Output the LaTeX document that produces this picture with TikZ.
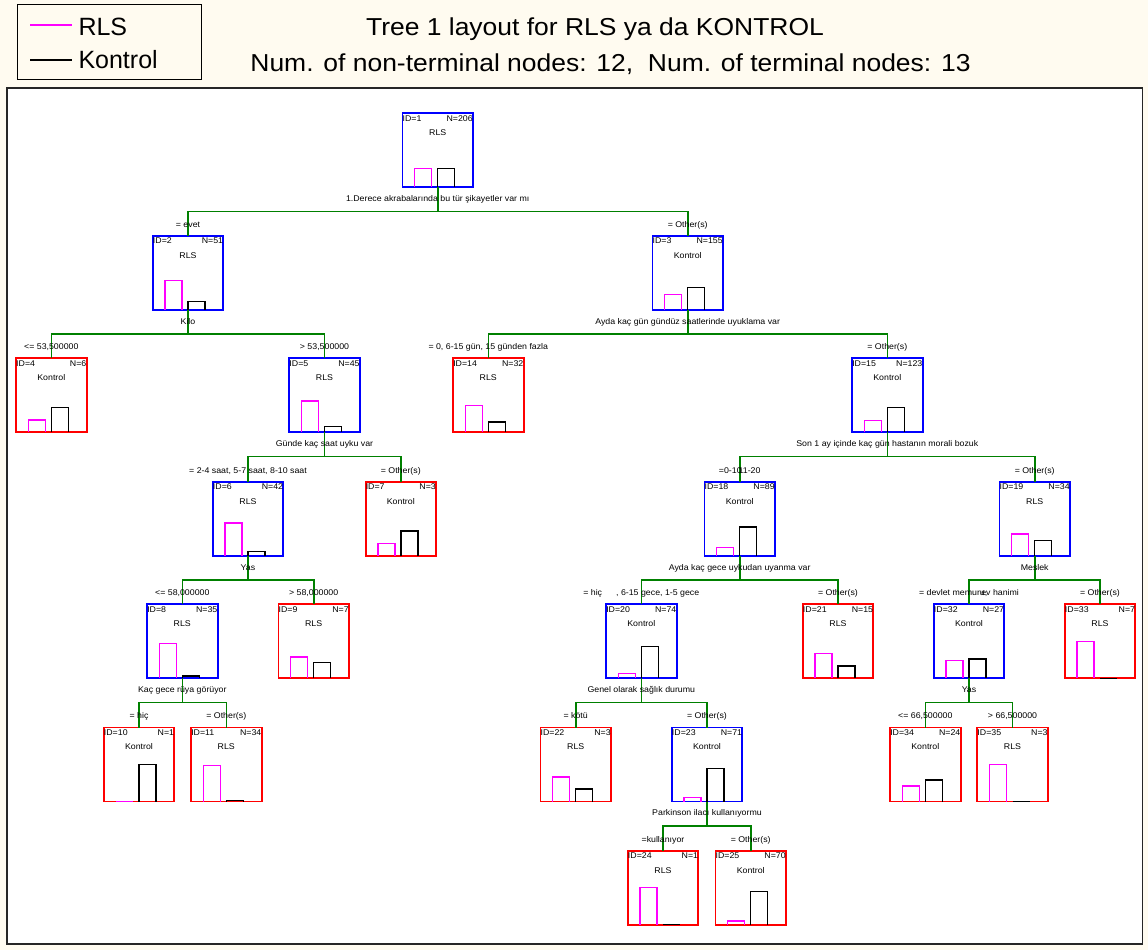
\documentclass[tikz,border=0pt]{standalone}
\usepackage{fontspec}
\setmainfont{Liberation Sans}
\newfontfamily\wsans[FakeStretch=1.06]{Liberation Sans}
\newfontfamily\tsans[FakeStretch=1.08]{Liberation Sans}
\definecolor{bgc}{RGB}{255,251,240}
\definecolor{edgegreen}{RGB}{0,128,0}
\definecolor{magbar}{RGB}{255,0,255}
\tikzset{
  tbox/.style={draw, line width=1.9pt, minimum width=70.5pt, minimum height=74pt, inner sep=0pt, outer sep=0pt, anchor=north},
  small/.style={font=\wsans\fontsize{8.3}{9}\selectfont, inner sep=0pt, text=black},
  edge/.style={draw=edgegreen, line width=1.6pt},
  mbar/.style={draw=magbar, line width=1.5pt},
  kbar/.style={draw=black, line width=1.5pt},
  bigtext/.style={font=\fontsize{25}{28}\selectfont, inner sep=0pt, text=black},
  titletext/.style={font=\tsans\fontsize{24.5}{28}\selectfont, inner sep=0pt, text=black},
}
\newcommand\tnode[8]{%
  \node[tbox, draw=#3] (n#4) at (#1,#2) {};
  \node[small, anchor=base west] (n#4id) at ([yshift=-8pt]n#4.north west) {ID=#4};
  \node[small, anchor=base east] (n#4N) at ([yshift=-8pt]n#4.north east) {N=#5};
  \node[small, anchor=base] (n#4cl) at ([yshift=-22.3pt]n#4.north) {#6};
  \draw[mbar] ([xshift=-23pt]n#4.south) -- ++(0,-#7) -- ++(17,0) -- ++(0,#7);
  \draw[kbar] (n#4.south) -- ++(0,-#8) -- ++(17,0) -- ++(0,#8);
}
\newcommand\tsplit[6]{%
  \draw[edge] (n#1.south) -- ++(0,24.3) -| (n#3.north);
  \draw[edge] (n#1.south) -- ++(0,24.3) -| (n#5.north);
  \node[small, anchor=base] (q#1) at ([yshift=-14.3pt]n#1.south) {#2};
  \node[small, anchor=base] (c#3) at ([yshift=8.7pt]n#3.north) {#4};
  \node[small, anchor=base] (c#5) at ([yshift=8.7pt]n#5.north) {#6};
}
\begin{document}
\begin{tikzpicture}[x=1pt,y=-1pt]
\fill[bgc] (0,0) rectangle (1148,950);
\useasboundingbox (0,0) rectangle (1148,950);
\draw[fill=white, line width=1.8pt, draw=black!85] (7,88) rectangle (1142.5,944);
% legend
\draw[fill=bgc, line width=1pt, draw=black] (17.3,5) rectangle (201,79);
\coordinate (lg1a) at (30,25); \coordinate (lg1b) at (71.7,25);
\coordinate (lg2a) at (30,60); \coordinate (lg2b) at (71.7,60);
\draw[draw=magbar, line width=1.2pt] (lg1a) -- (lg1b);
\draw[draw=black, line width=1.2pt] (lg2a) -- (lg2b);
\node[bigtext, anchor=base west] (lg1t) at (78.3,36) {RLS};
\node[bigtext, anchor=base west] (lg2t) at (78.3,68.3) {Kontrol};
% titles
\node[titletext, anchor=base] (title1) at (595,36) {Tree 1 layout for RLS ya da KONTROL};
\node[titletext, anchor=base] (title2) at (610.5,71.7) {Num. of non-terminal nodes: 12,\ \ Num. of terminal nodes: 13};
% nodes
\tnode{437.7}{113}{blue}{1}{206}{RLS}{18.5}{18.5}
\tnode{188}{235.7}{blue}{2}{51}{RLS}{29.0}{8.0}
\tnode{687.7}{235.7}{blue}{3}{155}{Kontrol}{15.0}{22.0}
\tnode{51.3}{358.3}{red}{4}{6}{Kontrol}{12.3}{24.7}
\tnode{324.5}{358.3}{blue}{5}{45}{RLS}{31.2}{5.8}
\tnode{488.3}{358.3}{red}{14}{32}{RLS}{26.6}{10.4}
\tnode{887.3}{358.3}{blue}{15}{123}{Kontrol}{12.0}{25.0}
\tnode{248}{481.7}{blue}{6}{42}{RLS}{32.6}{4.4}
\tnode{400.8}{481.7}{red}{7}{3}{Kontrol}{12.3}{24.7}
\tnode{739.7}{481.7}{blue}{18}{89}{Kontrol}{8.3}{28.7}
\tnode{1034.7}{481.7}{blue}{19}{34}{RLS}{21.8}{15.2}
\tnode{182.3}{604.3}{blue}{8}{35}{RLS}{34.9}{2.1}
\tnode{313.7}{604.3}{red}{9}{7}{RLS}{21.1}{15.9}
\tnode{641.3}{604.3}{blue}{20}{74}{Kontrol}{5.0}{32.0}
\tnode{838}{604.3}{red}{21}{15}{RLS}{24.7}{12.3}
\tnode{969}{604.3}{blue}{32}{27}{Kontrol}{17.8}{19.2}
\tnode{1100}{604.3}{red}{33}{7}{RLS}{37}{0}
\tnode{139}{727.5}{red}{10}{1}{Kontrol}{0}{37}
\tnode{226.3}{727.5}{red}{11}{34}{RLS}{35.9}{1.1}
\tnode{575.7}{727.5}{red}{22}{3}{RLS}{24.7}{12.3}
\tnode{707}{727.5}{blue}{23}{71}{Kontrol}{4.2}{32.8}
\tnode{925.3}{727.5}{red}{34}{24}{Kontrol}{15.4}{21.6}
\tnode{1012.5}{727.5}{red}{35}{3}{RLS}{37}{0}
\tnode{663}{850.7}{red}{24}{1}{RLS}{37}{0}
\tnode{750.7}{850.7}{red}{25}{70}{Kontrol}{3.7}{33.3}
% splits
\tsplit{1}{1.Derece akrabalarında bu tür şikayetler var mı}{2}{= evet}{3}{= Other(s)}
\tsplit{2}{Kilo}{4}{<= 53,500000}{5}{> 53,500000}
\tsplit{3}{Ayda kaç gün gündüz saatlerinde uyuklama var}{14}{= 0, 6-15 gün, 15 günden fazla}{15}{= Other(s)}
\tsplit{5}{Günde kaç saat uyku var}{6}{= 2-4 saat, 5-7 saat, 8-10 saat}{7}{= Other(s)}
\tsplit{15}{Son 1 ay içinde kaç gün hastanın morali bozuk}{18}{=0-10\kern-3pt 11-20}{19}{= Other(s)}
\tsplit{6}{Yas}{8}{<= 58,000000}{9}{> 58,000000}
\tsplit{18}{Ayda kaç gece uykudan uyanma var}{20}{= hiç\hspace{14pt}, 6-15 gece, 1-5 gece}{21}{= Other(s)}
\tsplit{19}{Meslek}{32}{= devlet memuru,\kern-6pt ev hanimi}{33}{= Other(s)}
\tsplit{8}{Kaç gece rüya görüyor}{10}{= hiç}{11}{= Other(s)}
\tsplit{20}{Genel olarak sağlık durumu}{22}{= kötü}{23}{= Other(s)}
\tsplit{32}{Yas}{34}{<= 66,500000}{35}{> 66,500000}
\tsplit{23}{Parkinson ilacı kullanıyormu}{24}{=kullanıyor}{25}{= Other(s)}
\end{tikzpicture}
\end{document}
